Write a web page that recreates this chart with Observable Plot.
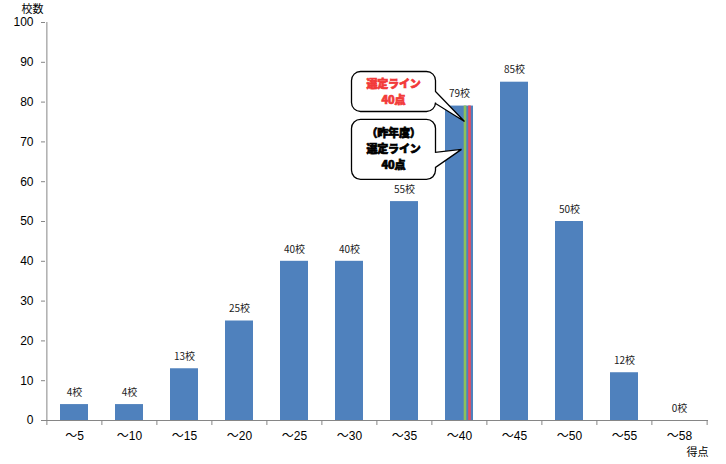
<!DOCTYPE html>
<html><head><meta charset="utf-8">
<script src="https://cdn.jsdelivr.net/npm/d3@7"></script>
<script src="https://cdn.jsdelivr.net/npm/@observablehq/plot@0.6"></script>
<style>
body{margin:0;background:#fff;}
svg{display:block;}
</style>
</head><body><div id="chart"></div>
<script>
const categories = ["～5","～10","～15","～20","～25","～30","～35","～40","～45","～50","～55","～58"];
const counts = [4,4,13,25,40,40,55,79,85,50,12,0];
const yTicks = [0,10,20,30,40,50,60,70,80,90,100];
const yLabel = "校数";
const xLabel = "得点";
const unit = "校";
const cutCategory = "～40";
// selection lines: last year (green) and this year (red)
const cutLines = [
  {name: "昨年度", category: "～40", color: "#8CC15B", offset: 5.5},
  {name: "今年度", category: "～40", color: "#EA4A5C", offset: 10}
];
const callouts = [
  {lines: ["選定ライン","40点"], color: "#F23A3A", tipValue: 75, tipDx: 5.5, box: {x: -113, y: -50, w: 84, h: 40}, tail: [-30, -18]},
  {lines: ["（昨年度）","選定ライン","40点"], color: "#000000", tipValue: 68, tipDx: 2.5, box: {x: -110, y: -30, w: 84, h: 60}, tail: [3, 18]}
];

const data = categories.map((c, i) => ({cat: c, v: counts[i]}));
const W = 726, H = 464, mL = 45, mR = 18, mT = 22, mB = 44;
const pIn = 0.5, pOut = 0.25;
const step = (W - mL - mR) / (categories.length - pIn + 2 * pOut);
const axisColor = "#868686";
const cutValue = counts[categories.indexOf(cutCategory)];
const sans = "'Liberation Sans', Arial, 'Noto Sans CJK JP', sans-serif";
const jp = "'Noto Sans CJK JP', sans-serif";

const plot = Plot.plot({
  width: W, height: H,
  marginLeft: mL, marginRight: mR, marginTop: mT, marginBottom: mB,
  style: {fontFamily: sans, fontSize: "12px", color: "#000", background: "#fff"},
  x: {domain: categories, paddingInner: pIn, paddingOuter: pOut, label: null},
  y: {domain: [0, 100], label: null},
  marks: [
    Plot.barY(data, {x: "cat", y: "v", fill: "#4F81BD"}),
    ...cutLines.map(l => Plot.ruleX([l], {x: "category", y1: 0, y2: cutValue, stroke: l.color, strokeWidth: 2.6, dx: l.offset})),
    Plot.text(data, {x: "cat", y: "v", text: d => d.v + unit, dy: -12, fontSize: 10, fontFamily: jp, fill: "#222"}),
    // axis lines
    Plot.ruleY([0], {stroke: axisColor, strokeWidth: 1}),
    Plot.ruleX([categories[0]], {x: d => d, y1: 0, y2: 100, dx: -step / 2, stroke: axisColor}),
    Plot.ruleX(categories, {x: d => d, y1: 0, y2: 0, insetTop: 5, dx: -step / 2, stroke: axisColor}),
    Plot.ruleX([categories[categories.length - 1]], {x: d => d, y1: 0, y2: 0, insetTop: 5, dx: step / 2, stroke: axisColor}),
    Plot.axisY({ticks: yTicks, tickSize: 4, tickPadding: 8, stroke: axisColor, fontSize: 12, label: null}),
    Plot.axisX({tickSize: 0, tickPadding: 11, fontSize: 12, label: null}),
    Plot.text([yLabel], {frameAnchor: "top-left", dx: -24, dy: -17, fontSize: 11, fontFamily: jp}),
    Plot.text([xLabel], {frameAnchor: "bottom-right", dx: 0, dy: 35, fontSize: 11, fontFamily: jp})
  ]
});

document.getElementById("chart").appendChild(plot);

// draw callouts using the plot scales
const xs = plot.scale("x"), ys = plot.scale("y");
const xc = xs.apply(cutCategory) + xs.bandwidth / 2;
const svg = d3.select(plot);
const g = svg.append("g").attr("class", "callouts");
callouts.forEach(c => {
  const tx = xc + c.tipDx, ty = ys.apply(c.tipValue);
  const x0 = tx + c.box.x, y0 = ty + c.box.y, x1 = x0 + c.box.w, y1 = y0 + c.box.h, r = 9;
  const a = ty + c.tail[0], b = ty + c.tail[1];
  const p = d3.path();
  p.moveTo(x0 + r, y0);
  p.lineTo(x1 - r, y0);
  p.arcTo(x1, y0, x1, y0 + r, r);
  p.lineTo(x1, a);
  p.lineTo(tx, ty);
  p.lineTo(x1, b);
  p.lineTo(x1, y1 - r);
  p.arcTo(x1, y1, x1 - r, y1, r);
  p.lineTo(x0 + r, y1);
  p.arcTo(x0, y1, x0, y1 - r, r);
  p.lineTo(x0, y0 + r);
  p.arcTo(x0, y0, x0 + r, y0, r);
  p.closePath();
  g.append("path").attr("d", p.toString()).attr("fill", "#fff").attr("stroke", "#000").attr("stroke-width", 1.3);
  const cx = (x0 + x1) / 2, cy = (y0 + y1) / 2, lh = 16;
  const t = g.append("text")
    .attr("text-anchor", "middle")
    .attr("font-family", jp).attr("font-weight", 900)
    .attr("font-size", 11).attr("letter-spacing", -0.2).attr("fill", c.color)
    .attr("stroke", c.color).attr("stroke-width", 0.7);
  c.lines.forEach((s, i) => {
    t.append("tspan")
      .attr("x", cx).attr("y", cy + (i - (c.lines.length - 1) / 2) * lh + 4)
      .text(s);
  });
});
</script>
</body></html>
